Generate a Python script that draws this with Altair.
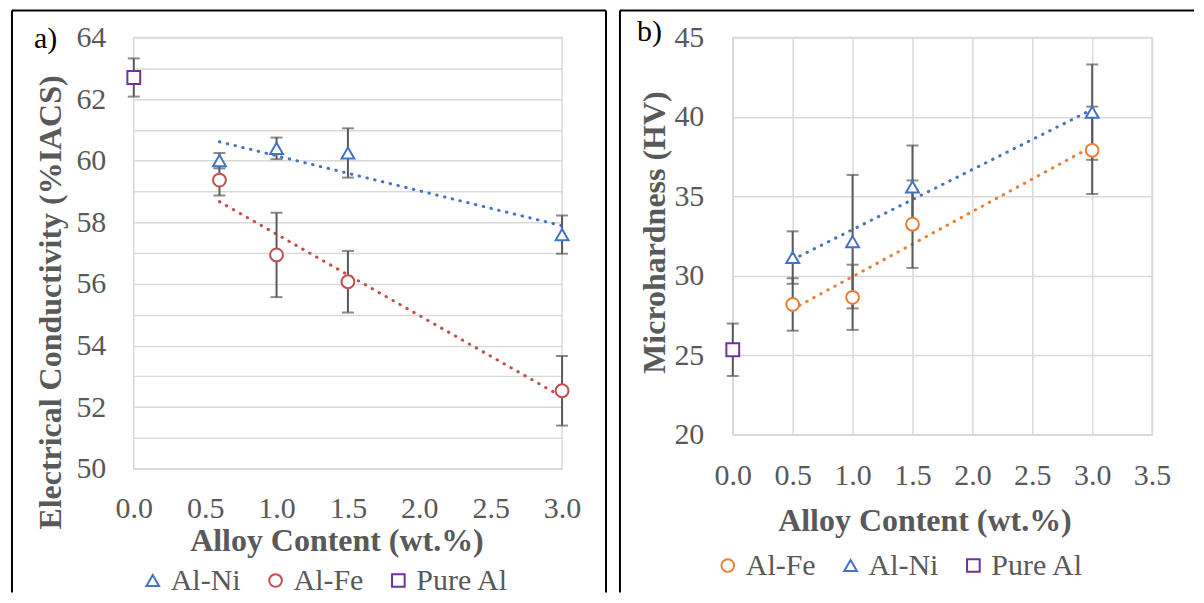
import altair as alt
import pandas as pd

# ---------------- data ----------------
# Panel a) electrical conductivity (%IACS)
ec_x = [0.6, 1.0, 1.5, 3.0]
ec_ni = [60.0, 60.4, 60.25, 57.6]
ec_ni_err = [0.25, 0.35, 0.8, 0.62]
ec_fe = [59.37, 56.94, 56.07, 52.53]
ec_fe_err = [0.5, 1.37, 1.0, 1.13]
ec_pure_x = [0.0]
ec_pure = [62.7]
ec_pure_err = [0.62]

# Panel b) microhardness (HV)
hv_x = [0.5, 1.0, 1.5, 3.0]
hv_fe = [28.2, 28.65, 33.25, 37.9]
hv_fe_err = [1.65, 2.05, 2.75, 2.75]
hv_ni = [31.15, 32.15, 35.6, 40.3]
hv_ni_err = [1.65, 4.2, 2.6, 3.0]
hv_pure_x = [0.0]
hv_pure = [25.35]
hv_pure_err = [1.65]

a_series = ["Al-Ni", "Al-Fe", "Pure Al"]
a_colors = ["#4472C4", "#C0504D", "#7030A0"]
a_shapes = ["triangle-up", "circle", "square"]
b_series = ["Al-Fe", "Al-Ni", "Pure Al"]
b_colors = ["#ED7D31", "#4472C4", "#7030A0"]
b_shapes = ["circle", "triangle-up", "square"]

a_xticks = [0.0, 0.5, 1.0, 1.5, 2.0, 2.5, 3.0]
a_yticks = list(range(50, 65))
b_xticks = [0.0, 0.5, 1.0, 1.5, 2.0, 2.5, 3.0, 3.5]
b_yticks = [20, 25, 30, 35, 40, 45]

FONT = "Liberation Serif"
GREY = "#595959"
GRID = "#d9d9d9"


def frame(parts):
    rows = []
    for name, xs, ys, es in parts:
        for x, y, e in zip(xs, ys, es):
            rows.append({"x": x, "y": y, "lo": y - e, "hi": y + e, "series": name})
    return pd.DataFrame(rows)


df_a = frame([("Al-Ni", ec_x, ec_ni, ec_ni_err),
              ("Al-Fe", ec_x, ec_fe, ec_fe_err),
              ("Pure Al", ec_pure_x, ec_pure, ec_pure_err)])
df_b = frame([("Al-Fe", hv_x, hv_fe, hv_fe_err),
              ("Al-Ni", hv_x, hv_ni, hv_ni_err),
              ("Pure Al", hv_pure_x, hv_pure, hv_pure_err)])


def panel(df, series, colors, shapes, xdom, xticks, xgrid, ydom, yticks,
          ylabel_expr, ytitle, g):
    xaxis = alt.Axis(values=xticks, format=".1f", grid=xgrid, gridColor=GRID,
                     gridWidth=1.5, domain=False, ticks=False, tickSize=0,
                     labelFlush=False, labelOverlap=False,
                     labelPadding=g["xlabpad"], title="Alloy Content (wt.%)",
                     titleX=g["xtx"], titleY=g["xty"], titleBaseline="alphabetic",
                     titleAlign="center")
    yaxis = alt.Axis(values=yticks, grid=True, gridColor=GRID, gridWidth=1.5,
                     domain=False, ticks=False, tickSize=0, labelPadding=g["ylabpad"],
                     labelFlush=False, labelOverlap=False,
                     labelExpr=ylabel_expr, title=ytitle, titleX=g["ytx"],
                     titleY=g["yty"], titleBaseline="alphabetic", titleAlign="center",
                     titleAngle=270)
    xs = alt.Scale(domain=xdom, nice=False)
    ys = alt.Scale(domain=ydom, nice=False)
    X = alt.X("x:Q", scale=xs, axis=xaxis)
    Y = alt.Y("y:Q", scale=ys, axis=yaxis)
    Ylo = alt.Y("lo:Q", scale=ys, axis=yaxis)
    Yhi = alt.Y("hi:Q", scale=ys, axis=yaxis)

    base = alt.Chart(df)
    layers = []
    for s, c in zip(series, colors):
        if s == "Pure Al":
            continue
        layers.append(
            base.transform_filter(alt.datum.series == s)
            .transform_regression("x", "y", extent=[g["trend0"], 3.0])
            .mark_line(color=c, strokeWidth=3, strokeDash=[0.5, 7.5], strokeCap="round")
            .encode(x=X, y=Y)
        )
    layers.append(base.mark_rule(color=GREY, strokeWidth=2).encode(x=X, y=Ylo, y2="hi:Q"))
    layers.append(base.mark_tick(orient="horizontal", size=12, thickness=2, color=GREY)
                  .encode(x=X, y=Ylo))
    layers.append(base.mark_tick(orient="horizontal", size=12, thickness=2, color=GREY)
                  .encode(x=X, y=Yhi))
    leg = alt.Legend(orient="none", legendX=g["legx"], legendY=g["legy"],
                     direction="horizontal", title=None, labelFont=FONT,
                     labelFontSize=30, labelColor=GREY, symbolStrokeWidth=2,
                     symbolSize=160, labelOffset=3, columnPadding=20, padding=0)
    layers.append(
        base.mark_point(filled=False, fill="white", fillOpacity=1, strokeWidth=2,
                        size=165, opacity=1)
        .encode(x=X, y=Y,
                color=alt.Color("series:N", scale=alt.Scale(domain=series, range=colors), legend=leg),
                shape=alt.Shape("series:N", scale=alt.Scale(domain=series, range=shapes), legend=leg))
    )
    one = alt.Chart(pd.DataFrame({"k": [0]}))
    L, R, T, B = g["bl"], g["br"], g["bt"], g["bb"]
    layers.append(one.mark_rule(color="black", strokeWidth=2)
                  .encode(x=alt.value(L), x2=alt.value(R), y=alt.value(T)))
    layers.append(one.mark_rule(color="black", strokeWidth=2)
                  .encode(x=alt.value(L), y=alt.value(T), y2=alt.value(B)))
    if g["right_border"]:
        layers.append(one.mark_rule(color="black", strokeWidth=2)
                      .encode(x=alt.value(R), y=alt.value(T), y2=alt.value(B)))
    layers.append(one.mark_text(font=FONT, fontSize=30, color="black", align="left",
                                baseline="alphabetic")
                  .encode(x=alt.value(g["lx"]), y=alt.value(g["ly"]), text=alt.value(g["label"])))
    return alt.layer(*layers).properties(width=g["w"], height=g["h"])


ga = dict(w=429, h=432, xlabpad=25, xtx=203, xty=82, ylabpad=28, ytx=-73, yty=265,
          trend0=0.6, legx=4, legy=529, bl=-122, br=473, bt=-27, bb=556,
          right_border=True, lx=-100, ly=11, label="a)")
gb = dict(w=420, h=398, xlabpad=26, xtx=192, xty=96, ylabpad=29, ytx=-68, yty=195,
          trend0=0.5, legx=-20, legy=514, bl=-113, br=462, bt=-27, bb=556,
          right_border=False, lx=-96, ly=4, label="b)")

pa = panel(df_a, a_series, a_colors, a_shapes, [0, 3], a_xticks, False, [50, 64],
           a_yticks, "datum.value % 2 == 0 ? datum.label : ''",
           "Electrical Conductivity (%IACS)", ga)
pb = panel(df_b, b_series, b_colors, b_shapes, [0, 3.5], b_xticks, True, [20, 45],
           b_yticks, "datum.label", "Microhardness (HV)", gb)

chart = (
    alt.hconcat(pa, pb, spacing=10)
    .resolve_scale(color="independent", shape="independent")
    .resolve_legend(color="independent", shape="independent")
    .properties(padding={"left": 2, "top": 0, "right": 0, "bottom": 0})
    .configure_view(stroke=GRID, strokeWidth=1.5)
    .configure_axis(labelFont=FONT, labelFontSize=30, labelColor=GREY,
                    titleFont=FONT, titleFontSize=32, titleFontWeight="bold",
                    titleColor=GREY)
)

chart.save("out.html", embed_options={"renderer": "svg", "actions": False})
